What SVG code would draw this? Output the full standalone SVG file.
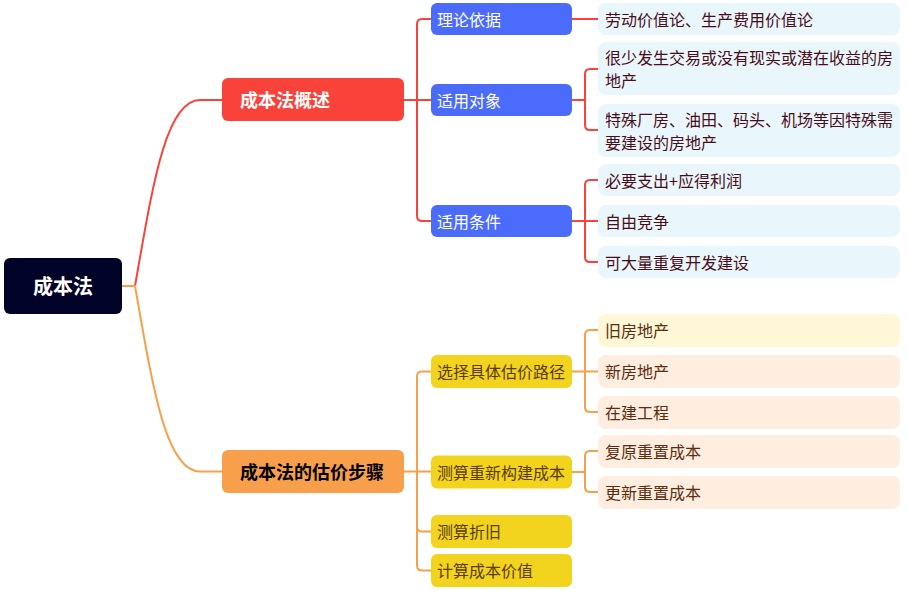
<svg xmlns="http://www.w3.org/2000/svg" width="908" height="597" viewBox="0 0 908 597">
<style>
text{font-family:"Noto Sans CJK SC","Noto Sans",sans-serif;dominant-baseline:central}
.r{fill:none;stroke:#F9423A;stroke-width:2}
.o{fill:none;stroke:#F7A04B;stroke-width:2}
.l1{font-size:18px;font-weight:bold}
.t16{font-size:16px}
.blue{fill:#4B6BFB}
.yel{fill:#F2D31E}
.lb{fill:#E9F7FD}
.pe{fill:#FFEDDF}
.ly{fill:#FFF7D6}
.wt{fill:#FFFFFF}
.tl{fill:#4A0C16}
.tb{fill:#5B2C0E}
.ty{fill:#5A3B00}
</style>
<rect width="908" height="597" fill="#FFFFFF"/>
<g id="connectors">
<path class="r" d="M135,286 C152,190 165,100 200,100 L222,100"/>
<path class="o" d="M122,286 H135 C152,382 165,471.5 200,471.5 L222,471.5"/>
<path class="r" d="M404,100 H431 M431,19 H422 Q417,19 417,24 V216 Q417,221 422,221 H431"/>
<path class="r" d="M572,19 H598"/>
<path class="r" d="M572,100 H585 M598,69 H590 Q585,69 585,74 V125 Q585,130 590,130 H598"/>
<path class="r" d="M572,221 H598 M598,180 H590 Q585,180 585,185 V257 Q585,262 590,262 H598"/>
<path class="o" d="M404,471.5 H431 M431,371.5 H422 Q417,371.5 417,376.5 V565.5 Q417,570.5 422,570.5 H431 M417,526.5 Q417,531.5 422,531.5 H431"/>
<path class="o" d="M572,371.5 H598 M598,330 H590 Q585,330 585,335 V407 Q585,412 590,412 H598"/>
<path class="o" d="M572,472 H585 M598,451 H590 Q585,451 585,456 V487 Q585,492 590,492 H598"/>
</g>
<g id="root">
<rect x="4" y="258" width="118" height="56" rx="6" fill="#000228"/>
<text x="63" y="285.5" text-anchor="middle" font-size="20" font-weight="bold" class="wt">成本法</text>
</g>
<g id="n-overview">
<rect x="222" y="78" width="182" height="43" rx="6" fill="#F9423A"/>
<text x="240" y="99" class="l1 wt">成本法概述</text>
</g>
<g id="n-steps">
<rect x="222" y="450" width="182" height="43" rx="6" fill="#F79F4A"/>
<text x="240" y="471" class="l1" fill="#000000">成本法的估价步骤</text>
</g>
<g id="n-basis">
<rect x="431" y="3" width="141" height="32" rx="6" class="blue"/>
<text x="437" y="18.5" class="t16 wt">理论依据</text>
</g>
<g id="n-object">
<rect x="431" y="84" width="141" height="32" rx="6" class="blue"/>
<text x="437" y="99.5" class="t16 wt">适用对象</text>
</g>
<g id="n-cond">
<rect x="431" y="205" width="141" height="32" rx="6" class="blue"/>
<text x="437" y="220.5" class="t16 wt">适用条件</text>
</g>
<g id="l-basis">
<rect x="598" y="3" width="302" height="32" rx="8" class="lb"/>
<text x="605" y="18.5" class="t16 tl">劳动价值论、生产费用价值论</text>
</g>
<g id="l-obj1">
<rect x="598" y="42" width="302" height="53" rx="8" class="lb"/>
<text x="605" y="56.8" class="t16 tl">很少发生交易或没有现实或潜在收益的房<tspan x="605" dy="23.4">地产</tspan></text>
</g>
<g id="l-obj2">
<rect x="598" y="104" width="302" height="53" rx="8" class="lb"/>
<text x="605" y="118.8" class="t16 tl">特殊厂房、油田、码头、机场等因特殊需<tspan x="605" dy="23.4">要建设的房地产</tspan></text>
</g>
<g id="l-cond1">
<rect x="598" y="164" width="302" height="32" rx="8" class="lb"/>
<text x="605" y="179.5" class="t16 tl">必要支出+应得利润</text>
</g>
<g id="l-cond2">
<rect x="598" y="205" width="302" height="32" rx="8" class="lb"/>
<text x="605" y="220.5" class="t16 tl">自由竞争</text>
</g>
<g id="l-cond3">
<rect x="598" y="246" width="302" height="32" rx="8" class="lb"/>
<text x="605" y="261.5" class="t16 tl">可大量重复开发建设</text>
</g>
<g id="n-path">
<rect x="431" y="355" width="141" height="33" rx="6" class="yel"/>
<text x="437" y="371" class="t16 ty">选择具体估价路径</text>
</g>
<g id="n-rebuild">
<rect x="431" y="455.5" width="141" height="33" rx="6" class="yel"/>
<text x="437" y="471.5" class="t16 ty">测算重新构建成本</text>
</g>
<g id="n-depr">
<rect x="431" y="515" width="141" height="33" rx="6" class="yel"/>
<text x="437" y="531" class="t16 ty">测算折旧</text>
</g>
<g id="n-value">
<rect x="431" y="554" width="141" height="33" rx="6" class="yel"/>
<text x="437" y="570" class="t16 ty">计算成本价值</text>
</g>
<g id="l-old">
<rect x="598" y="314" width="302" height="33" rx="8" class="ly"/>
<text x="605" y="329.5" class="t16 tb">旧房地产</text>
</g>
<g id="l-new">
<rect x="598" y="355" width="302" height="33" rx="8" class="pe"/>
<text x="605" y="371" class="t16 tb">新房地产</text>
</g>
<g id="l-build">
<rect x="598" y="396" width="302" height="33" rx="8" class="pe"/>
<text x="605" y="411.5" class="t16 tb">在建工程</text>
</g>
<g id="l-restore">
<rect x="598" y="435" width="302" height="33" rx="8" class="pe"/>
<text x="605" y="450.5" class="t16 tb">复原重置成本</text>
</g>
<g id="l-renew">
<rect x="598" y="476" width="302" height="33" rx="8" class="pe"/>
<text x="605" y="491.5" class="t16 tb">更新重置成本</text>
</g>
</svg>
